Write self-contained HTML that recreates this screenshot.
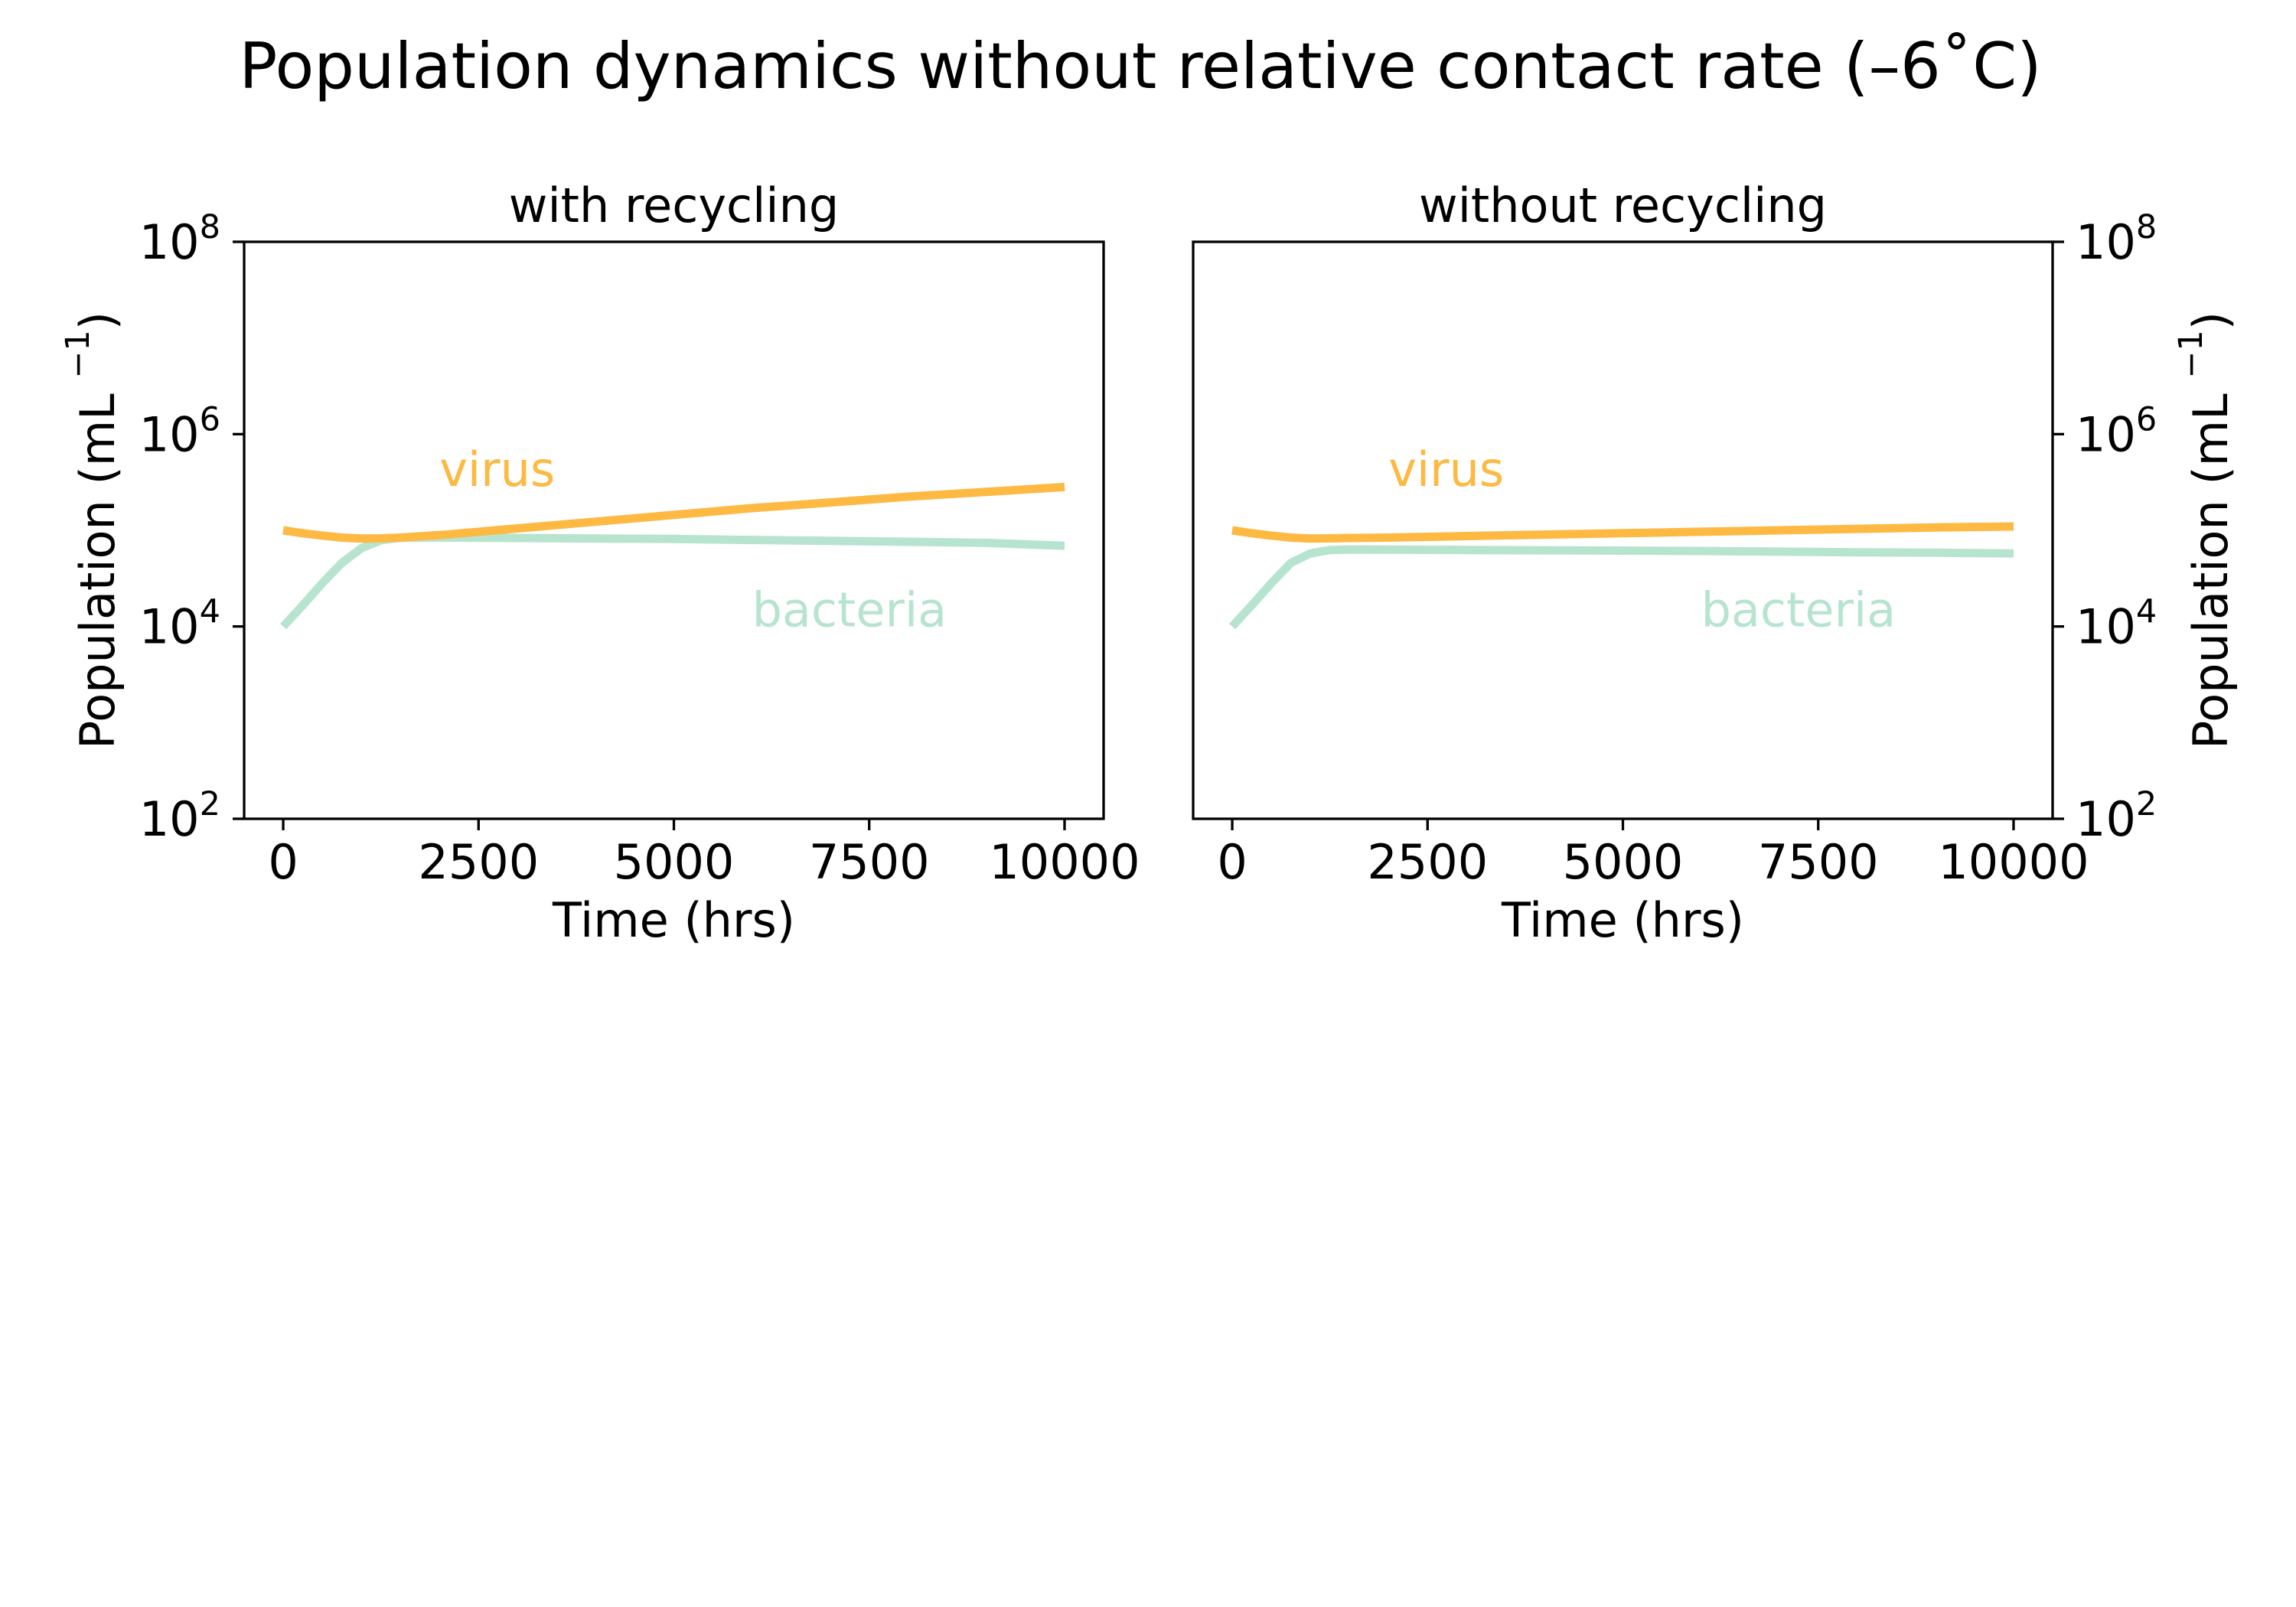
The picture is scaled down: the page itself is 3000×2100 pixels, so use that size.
<!DOCTYPE html>
<html><head><meta charset="utf-8"><style>
html,body{margin:0;padding:0;background:#fff;}
svg{display:block;font-family:"DejaVu Sans","Liberation Sans",sans-serif;}
</style></head><body>
<svg id="fig" width="3000" height="2100" viewBox="0 0 3000 2100" xmlns="http://www.w3.org/2000/svg">
<rect width="3000" height="2100" fill="#fff"/>
<text x="1490" y="115" font-size="83" text-anchor="middle">Population dynamics without relative contact rate (–6˚C)</text>
</svg>
<script>
const times = [0,250,500,750,1000,1250,1500,2000,3000,4000,5000,6000,7000,8000,9000,10000];
const virusWith = [100000,93300,88100,84100,82200,82500,84100,89100,104700,123000,144500,170000,195000,224000,251000,282000];
const bacteriaWith = [10000,16600,28200,45700,65000,79000,83500,84100,83200,82200,81300,79400,77600,75900,74100,69000];
const virusWithout = [100000,93300,88100,84100,82200,82500,83200,84100,87100,90200,93300,96600,100000,103500,107200,109600];
const bacteriaWithout = [10000,16600,28200,45700,57500,62500,63100,63000,62500,62000,61500,61000,60000,59000,58500,57500];
const xTicks = [0,2500,5000,7500,10000];
const xTickLabels = ["0","2500","5000","7500","10000"];
const yTickExps = [2,4,6,8];

const NS = "http://www.w3.org/2000/svg";
const svg = document.getElementById('fig');
function mk(tag, attrs, parent){ const e=document.createElementNS(NS,tag); for(const k in attrs) e.setAttribute(k,attrs[k]); (parent||svg).appendChild(e); return e; }

const panels = [
  {left:319, title:"with recycling", virus:virusWith, bacteria:bacteriaWith, side:"left", key:"with-recycling"},
  {left:1559, title:"without recycling", virus:virusWithout, bacteria:bacteriaWithout, side:"right", key:"without-recycling"}
];
const W = 1123, TOP = 316, BOT = 1070;
const XMIN = -500, XMAX = 10500, YMIN = 2, YMAX = 8;
const FS = 62;

panels.forEach(p => {
  const g = mk('g', {});
  
  
  const xs = v => p.left + (v - XMIN) / (XMAX - XMIN) * W;
  const ys = v => BOT - (Math.log10(v) - YMIN) / (YMAX - YMIN) * (BOT - TOP);

  const t = mk('text', {x: p.left + W/2, y: 290, 'font-size': FS, 'text-anchor': 'middle'}, g);
  t.textContent = p.title;
  
  

  function line(data, color, name){
    let d = '';
    data.forEach((v,i) => { d += (i ? 'L' : 'M') + xs(times[i]).toFixed(1) + ' ' + ys(v).toFixed(1); });
    const pa = mk('path', {d: d, fill: 'none', stroke: color, 'stroke-width': 11, 'stroke-linejoin': 'round'}, g);
    
    
  }
  line(p.bacteria, '#b7e4cf', p.key + '-bacteria-line');
  line(p.virus, '#fdb942', p.key + '-virus-line');

  const vl = mk('text', {x: xs(2000), y: 635, 'font-size': FS, fill: '#fdb942'}, g);
  vl.textContent = 'virus';
  
  
  const bl = mk('text', {x: xs(6000), y: ys(10000), 'font-size': FS, fill: '#b7e4cf'}, g);
  bl.textContent = 'bacteria';
  
  

  const fr = mk('rect', {x: p.left, y: TOP, width: W, height: BOT - TOP, fill: 'none', stroke: '#000', 'stroke-width': 3.3}, g);
  
  

  xTicks.forEach((v,i) => {
    const x = xs(v);
    const tk = mk('line', {x1: x, x2: x, y1: BOT, y2: BOT + 15, stroke: '#000', 'stroke-width': 3.3}, g);
    
    
    const lb = mk('text', {x: x, y: 1148, 'font-size': FS, 'text-anchor': 'middle'}, g);
    lb.textContent = xTickLabels[i];
    
    
  });
  const xl = mk('text', {x: p.left + W/2, y: 1224, 'font-size': FS, 'text-anchor': 'middle'}, g);
  xl.textContent = 'Time (hrs)';
  
  

  const right = p.side === 'right';
  const ax = right ? p.left + W : p.left;
  yTickExps.forEach(e => {
    const y = ys(Math.pow(10, e));
    const tk = mk('line', {x1: ax, x2: right ? ax + 15 : ax - 15, y1: y, y2: y, stroke: '#000', 'stroke-width': 3.3}, g);
    
    
    const lb = mk('text', {x: right ? ax + 30 : ax - 31, y: y + 22, 'font-size': FS, 'text-anchor': right ? 'start' : 'end'}, g);
    
    
    const a = mk('tspan', {}, lb); a.textContent = '10';
    const b = mk('tspan', {'font-size': 43, dy: -27}, lb); b.textContent = String(e);
  });
  const cx = right ? 2888 : 127, cy = (TOP + BOT) / 2;
  const yl = mk('text', {x: cx, y: cy, 'font-size': FS, 'text-anchor': 'middle', 'dominant-baseline': 'central', transform: 'rotate(-90 ' + cx + ' ' + cy + ')'}, g);
  
  
  const s1 = mk('tspan', {}, yl); s1.textContent = 'Population (mL ';
  const s2 = mk('tspan', {'font-size': 43, dy: -25}, yl); s2.textContent = '−1';
  const s3 = mk('tspan', {dy: 25}, yl); s3.textContent = ')';
});
</script>
</body></html>
